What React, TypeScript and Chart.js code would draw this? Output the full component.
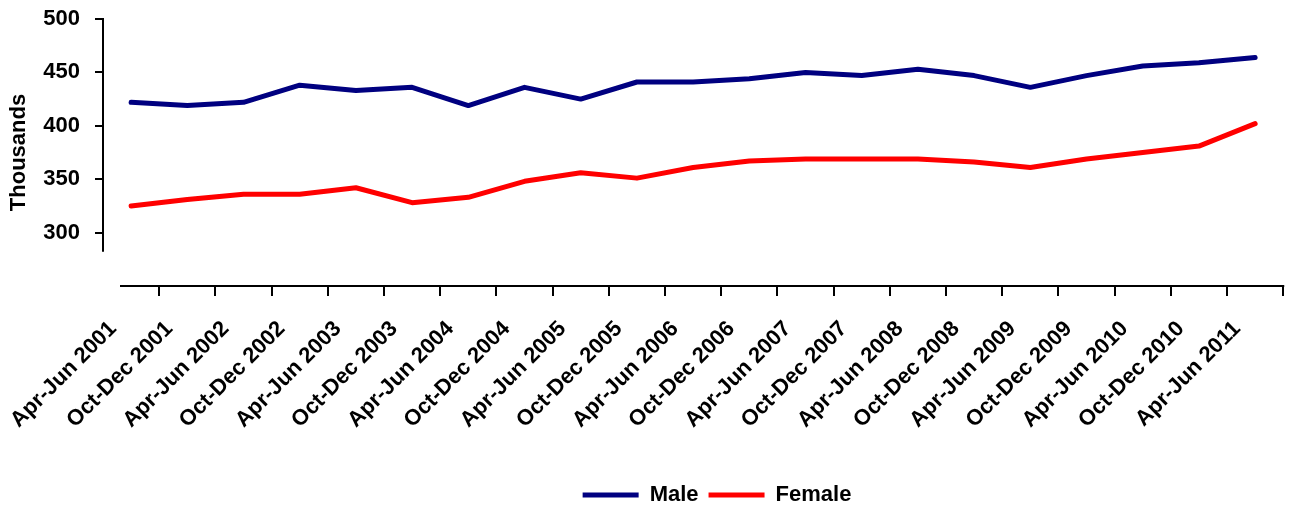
import React, { useEffect, useRef } from "react";
import { Chart, registerables } from "chart.js";

Chart.register(...registerables);

const categories = [
  "Apr-Jun 2001", "Oct-Dec 2001", "Apr-Jun 2002", "Oct-Dec 2002", "Apr-Jun 2003",
  "Oct-Dec 2003", "Apr-Jun 2004", "Oct-Dec 2004", "Apr-Jun 2005", "Oct-Dec 2005",
  "Apr-Jun 2006", "Oct-Dec 2006", "Apr-Jun 2007", "Oct-Dec 2007", "Apr-Jun 2008",
  "Oct-Dec 2008", "Apr-Jun 2009", "Oct-Dec 2009", "Apr-Jun 2010", "Oct-Dec 2010",
  "Apr-Jun 2011",
];

const maleValues = [
  422, 419, 422, 438, 433, 436, 419, 436, 425, 441,
  441, 444, 450, 447, 453, 447, 436, 447, 456, 459, 464,
];

const femaleValues = [
  325, 331, 336, 336, 342, 328, 333, 348, 356, 351,
  361, 367, 369, 369, 369, 366, 361, 369, 375, 381, 402,
];

const yTickValues = [300, 350, 400, 450, 500];
const Y_MIN = 250;
const Y_MAX = 500;
const Y_AXIS_LINE_MIN = 282;

const FONT = "'Liberation Sans', Arial, sans-serif";
const MALE_COLOR = "#000080";
const FEMALE_COLOR = "#FF0000";

const LEGEND_DX = 74;
const LEGEND_DY = 9;
const X_AXIS_INSET = 17;

const axisLinesPlugin = {
  id: "axisLines",
  afterLayout(chart: any) {
    const lg = chart.legend;
    if (lg) {
      lg.left += LEGEND_DX;
      lg.right += LEGEND_DX;
      lg.top += LEGEND_DY;
      lg.bottom += LEGEND_DY;
    }
  },
  afterDraw(chart: any) {
    const { ctx, chartArea, scales } = chart;
    const y = scales.y;
    ctx.save();
    ctx.strokeStyle = "#000";
    ctx.lineWidth = 2;
    ctx.lineCap = "butt";
    ctx.beginPath();
    ctx.moveTo(chartArea.left, y.getPixelForValue(Y_MAX) - 1);
    ctx.lineTo(chartArea.left, y.getPixelForValue(Y_AXIS_LINE_MIN));
    ctx.moveTo(chartArea.left + X_AXIS_INSET, chartArea.bottom);
    ctx.lineTo(chartArea.right + 1, chartArea.bottom);
    ctx.stroke();
    ctx.restore();
  },
};

export default function App() {
  const canvasRef = useRef<HTMLCanvasElement | null>(null);

  useEffect(() => {
    if (!canvasRef.current) return;
    const tickFont = { family: FONT, size: 22, weight: "bold" as const };
    const chart = new Chart(canvasRef.current, {
      type: "line",
      data: {
        labels: categories,
        datasets: [
          {
            label: "Male",
            data: maleValues,
            borderColor: MALE_COLOR,
            backgroundColor: MALE_COLOR,
            borderWidth: 5,
            pointRadius: 0,
            tension: 0,
            borderCapStyle: "round",
            borderJoinStyle: "round",
          },
          {
            label: "Female",
            data: femaleValues,
            borderColor: FEMALE_COLOR,
            backgroundColor: FEMALE_COLOR,
            borderWidth: 5,
            pointRadius: 0,
            tension: 0,
            borderCapStyle: "round",
            borderJoinStyle: "round",
          },
        ],
      },
      options: {
        animation: false,
        responsive: true,
        maintainAspectRatio: false,
        layout: { padding: { top: 19, right: 8, bottom: 0, left: 0 } },
        plugins: {
          tooltip: { enabled: false },
          legend: {
            position: "bottom",
            labels: {
              usePointStyle: true,
              pointStyle: "line",
              pointStyleWidth: 56,
              padding: 10,
              color: "#000",
              font: tickFont,
            },
          },
        },
        scales: {
          x: {
            type: "category",
            offset: true,
            afterFit(scale: any) {
              scale.height = 179;
            },
            border: { display: false },
            grid: {
              display: true,
              offset: true,
              drawOnChartArea: false,
              drawTicks: true,
              tickLength: 10,
              lineWidth: 2,
              color: (ctx: any) => (ctx.index === 0 ? "rgba(0,0,0,0)" : "#000"),
            },
            ticks: {
              autoSkip: false,
              minRotation: 45,
              maxRotation: 45,
              labelOffset: -18,
              padding: 20,
              color: "#000",
              font: tickFont,
            },
          },
          y: {
            min: Y_MIN,
            max: Y_MAX,
            afterFit(scale: any) {
              scale.width = 103;
              scale.paddingTop = 0;
              scale.paddingBottom = 0;
            },
            afterBuildTicks(scale: any) {
              scale.ticks = yTickValues.map((v) => ({ value: v }));
            },
            border: { display: false },
            grid: {
              display: true,
              drawOnChartArea: false,
              drawTicks: true,
              tickLength: 8,
              lineWidth: 2,
              color: "#000",
            },
            ticks: {
              padding: 15,
              color: "#000",
              font: tickFont,
            },
            title: {
              display: true,
              text: "Thousands",
              color: "#000",
              font: tickFont,
              padding: { top: 6, bottom: 0 },
            },
          },
        },
      },
      plugins: [axisLinesPlugin],
    });
    return () => chart.destroy();
  }, []);

  return (
    <div
      style={{
        position: "fixed",
        left: 0,
        top: 0,
        width: "1294px",
        height: "507px",
        background: "#fff",
      }}
    >
      <canvas ref={canvasRef} />
    </div>
  );
}
